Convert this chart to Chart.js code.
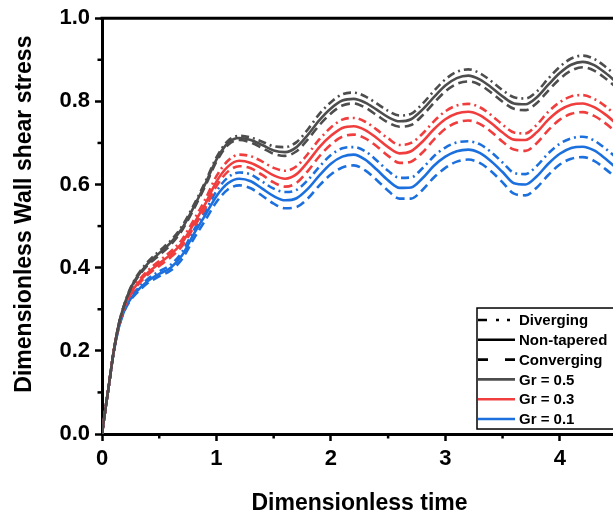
<!DOCTYPE html>
<html><head><meta charset="utf-8">
<script src="https://cdn.jsdelivr.net/npm/chart.js@4.4.0/dist/chart.umd.min.js"></script>
<style>
html,body{margin:0;padding:0;background:#fff;overflow:hidden;}
#wrap{width:613px;height:517px;overflow:hidden;position:relative;background:#fff;}
#c{position:absolute;left:0;top:0;}
</style></head><body>
<div id="wrap"><canvas id="c" width="622" height="517"></canvas></div>
<script>
const time = [0,0.03,0.06,0.1,0.15,0.2,0.25,0.3,0.4,0.5,0.6,0.7,0.8,0.9,1.0,1.1,1.2,1.3,1.4,1.5,1.6,1.7,1.8,1.9,2.0,2.1,2.2,2.3,2.4,2.5,2.6,2.7,2.8,2.9,3.0,3.1,3.2,3.3,3.4,3.5,3.6,3.7,3.8,3.9,4.0,4.1,4.2,4.3,4.4,4.5];

const gr05Diverging = [0,.06,.117,.195,.268,.316,.352,.378,.414,.44,.465,.50,.55,.605,.665,.705,.717,.713,.703,.692,.69,.702,.733,.77,.798,.817,.821,.812,.795,.777,.766,.77,.794,.825,.853,.871,.877,.868,.849,.827,.81,.807,.824,.855,.883,.903,.91,.902,.883,.86];
const gr05NonTapered = [0,.06,.117,.195,.268,.315,.35,.375,.41,.435,.46,.495,.545,.60,.66,.70,.712,.707,.695,.682,.678,.69,.72,.755,.783,.802,.806,.797,.78,.762,.752,.757,.78,.81,.838,.856,.862,.853,.834,.812,.795,.793,.81,.84,.868,.888,.895,.887,.868,.845];
const gr05Converging = [0,.06,.117,.195,.268,.314,.348,.372,.406,.43,.455,.49,.54,.595,.655,.695,.707,.701,.688,.674,.669,.68,.709,.743,.771,.79,.795,.785,.767,.749,.739,.743,.766,.796,.824,.842,.848,.84,.821,.799,.782,.779,.796,.826,.854,.874,.882,.874,.855,.832];

const gr03Diverging = [0,.06,.117,.195,.266,.312,.341,.362,.393,.416,.439,.468,.514,.563,.62,.657,.672,.668,.655,.64,.633,.644,.674,.709,.737,.756,.76,.751,.732,.711,.695,.7,.722,.752,.776,.79,.794,.786,.767,.744,.725,.723,.744,.775,.798,.812,.815,.806,.788,.764];
const gr03NonTapered = [0,.06,.117,.195,.265,.31,.338,.358,.388,.41,.432,.46,.505,.552,.607,.643,.657,.652,.638,.622,.614,.625,.655,.69,.717,.736,.74,.731,.712,.69,.675,.68,.703,.733,.757,.771,.775,.767,.748,.725,.708,.707,.726,.756,.779,.792,.795,.786,.768,.745];
const gr03Converging = [0,.06,.117,.195,.264,.308,.335,.354,.383,.404,.425,.452,.496,.542,.596,.631,.644,.639,.623,.605,.595,.604,.633,.668,.696,.715,.72,.711,.692,.669,.652,.655,.677,.708,.734,.749,.754,.746,.727,.703,.684,.681,.7,.731,.756,.77,.774,.765,.747,.724];

const gr01Diverging = [0,.06,.117,.193,.261,.302,.328,.346,.373,.391,.407,.438,.489,.535,.584,.617,.629,.624,.607,.59,.582,.587,.611,.643,.671,.687,.69,.68,.658,.633,.616,.617,.639,.668,.689,.701,.704,.697,.678,.653,.628,.625,.645,.675,.698,.711,.715,.706,.686,.663];
const gr01NonTapered = [0,.06,.117,.193,.26,.30,.325,.342,.368,.385,.40,.43,.48,.525,.572,.603,.614,.608,.59,.572,.562,.567,.59,.622,.65,.667,.672,.66,.636,.61,.592,.593,.615,.645,.667,.68,.684,.676,.656,.63,.603,.6,.62,.65,.674,.688,.691,.682,.662,.638];
const gr01Converging = [0,.06,.117,.193,.259,.298,.322,.338,.363,.379,.393,.421,.469,.513,.558,.588,.598,.591,.573,.554,.543,.546,.567,.598,.624,.641,.646,.634,.611,.585,.566,.566,.587,.617,.64,.655,.66,.652,.632,.605,.578,.574,.593,.623,.648,.662,.666,.657,.637,.614];

const xTicks = [0,1,2,3,4];
const xMinorTicks = [0.5,1.5,2.5,3.5,4.5];
const yTicks = [0,0.2,0.4,0.6,0.8,1.0];
const yMinorTicks = [0.1,0.3,0.5,0.7,0.9];
const styleLabels = ['Diverging','Non-tapered','Converging'];
const grLabels = ['Gr = 0.5','Gr = 0.3','Gr = 0.1'];
const xTitle = 'Dimensionless time';
const yTitle = 'Dimensionless Wall shear stress';

const FONT = "'Liberation Sans', Arial, sans-serif";
const colors = ['rgb(77,77,77)','rgb(240,62,62)','rgb(28,112,222)'];
const dashes = [[8,4,2,4],[],[9,5]];

function pts(arr){ return arr.map((v,i)=>({x:time[i], y:v})); }
const seriesSets = [
  [gr05Diverging, gr05NonTapered, gr05Converging],
  [gr03Diverging, gr03NonTapered, gr03Converging],
  [gr01Diverging, gr01NonTapered, gr01Converging]
];
const datasets = [];
seriesSets.forEach((set, gi)=>{
  set.forEach((arr, si)=>{
    datasets.push({
      label: grLabels[gi] + ' ' + styleLabels[si],
      data: pts(arr),
      borderColor: colors[gi],
      borderWidth: 2.6,
      borderDash: dashes[si],
      pointRadius: 0,
      fill: false,
      cubicInterpolationMode: 'monotone'
    });
  });
});

const extras = {
  id: 'extras',
  afterDraw(chart){
    const ctx = chart.ctx, a = chart.chartArea;
    const xs = chart.scales.x, ys = chart.scales.y;
    ctx.save();
    // top border
    ctx.strokeStyle = '#000'; ctx.lineWidth = 3;
    ctx.beginPath(); ctx.moveTo(a.left-1.5, a.top); ctx.lineTo(a.right, a.top); ctx.stroke();
    // minor ticks
    ctx.lineWidth = 2.5;
    xMinorTicks.forEach(v=>{
      const px = xs.getPixelForValue(v);
      ctx.beginPath(); ctx.moveTo(px, a.bottom); ctx.lineTo(px, a.bottom+4.5); ctx.stroke();
    });
    yMinorTicks.forEach(v=>{
      const py = ys.getPixelForValue(v);
      ctx.beginPath(); ctx.moveTo(a.left, py); ctx.lineTo(a.left-4.5, py); ctx.stroke();
    });
    // y title
    ctx.fillStyle = '#000';
    ctx.font = 'bold 23px ' + FONT;
    ctx.textAlign = 'center'; ctx.textBaseline = 'middle';
    ctx.translate(25, (a.top + a.bottom)/2 - 12);
    ctx.rotate(-Math.PI/2);
    ctx.fillText(yTitle, 0, 0);
    ctx.setTransform(1,0,0,1,0,0);
    // legend
    const bx = a.right - 140, by = ys.getPixelForValue(0.303), bh = 121;
    ctx.strokeStyle = '#000';
    ctx.lineWidth = 1.5;
    ctx.strokeRect(bx, by, 200, bh);
    const labels = styleLabels.concat(grLabels);
    ctx.font = 'bold 15px ' + FONT;
    ctx.textBaseline = 'middle';
    ctx.textAlign = 'left';
    labels.forEach((lab, i)=>{
      const yy = by + 12 + i*19.8;
      ctx.strokeStyle = i < 3 ? '#000' : colors[i-3];
      ctx.lineWidth = 2.6;
      ctx.setLineDash(i === 0 ? [9,9,3,8,3,20] : (i === 2 ? [10,17] : []));
      ctx.beginPath(); ctx.moveTo(bx+1, yy); ctx.lineTo(bx+38, yy); ctx.stroke();
      ctx.setLineDash([]);
      ctx.fillStyle = '#000';
      ctx.fillText(lab, bx+42, yy+1);
    });
    ctx.restore();
  }
};

new Chart(document.getElementById('c'), {
  type: 'line',
  data: { datasets },
  options: {
    responsive: false,
    animation: false,
    layout: { padding: { top: 16, right: 5, left: 0, bottom: 0 } },
    plugins: { legend: { display: false }, tooltip: { enabled: false } },
    scales: {
      x: {
        type: 'linear', min: 0, max: 4.5,
        afterBuildTicks(s){ s.ticks = xTicks.map(v=>({value:v})); },
        afterFit(s){ s.height = 83; },
        ticks: { color: '#000', font: { family: FONT, size: 22, weight: 'bold' }, padding: 5, maxRotation: 0,
                 callback: v => String(v) },
        grid: { drawOnChartArea: false, color: '#000', tickLength: 7, tickWidth: 2.5 },
        border: { color: '#000', width: 3 },
        title: { display: true, text: xTitle, color: '#000',
                 font: { family: FONT, size: 23, weight: 'bold' }, padding: { top: 0, bottom: 0 } }
      },
      y: {
        type: 'linear', min: 0, max: 1,
        afterBuildTicks(s){ s.ticks = yTicks.map(v=>({value:v})); },
        afterFit(s){ s.width = 102; },
        ticks: { color: '#000', font: { family: FONT, size: 22, weight: 'bold' }, padding: 5,
                 callback: v => v.toFixed(1) },
        grid: { drawOnChartArea: false, color: '#000', tickLength: 7, tickWidth: 2.5 },
        border: { color: '#000', width: 3 },
        title: { display: false }
      }
    }
  },
  plugins: [extras]
});
</script>
</body></html>
